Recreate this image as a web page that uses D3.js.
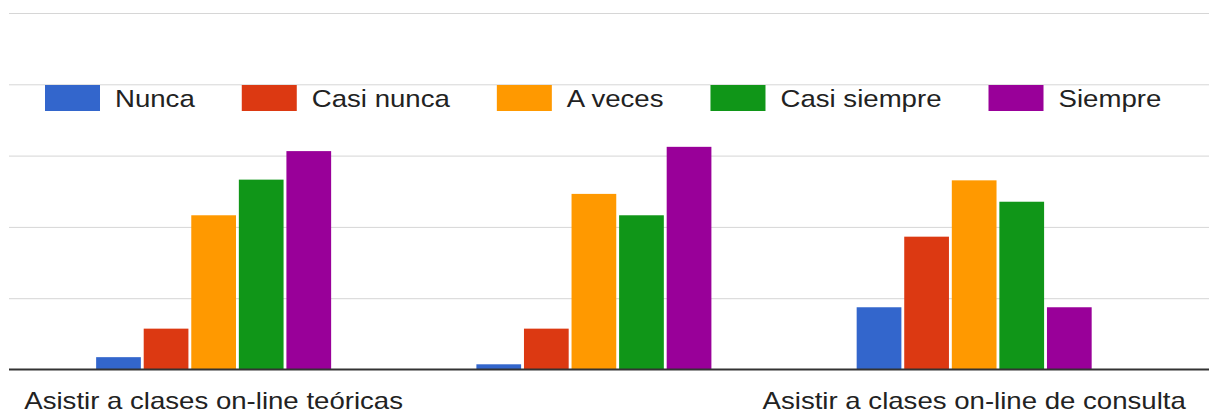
<!DOCTYPE html>
<html>
<head>
<meta charset="utf-8">
<script src="https://cdn.jsdelivr.net/npm/d3@7/dist/d3.min.js"></script>
<style>
  html, body { margin: 0; padding: 0; background: #fff; }
  svg { display: block; }
  text { font-family: "Liberation Sans", Arial, sans-serif; fill: #222; }
</style>
</head>
<body>
<svg id="chart" width="1209" height="414"></svg>
<script>
// ---- data ----
const categories = ["Asistir a clases on-line teóricas", "Asistir a clases on-line prácticas", "Asistir a clases on-line de consulta"];
const categoryLabelShown = [true, false, true];
const series = ["Nunca", "Casi nunca", "A veces", "Casi siempre", "Siempre"];
const colors = ["#3366cc", "#dc3912", "#ff9900", "#109618", "#990099"];
const valuesNunca       = [1.8, 0.8, 8.8];
const valuesCasiNunca   = [5.8, 5.8, 18.7];
const valuesAVeces      = [21.7, 24.7, 26.6];
const valuesCasiSiempre = [26.7, 21.7, 23.6];
const valuesSiempre     = [30.7, 31.3, 8.8];
const yTicks = [0, 10, 20, 30, 40, 50];

const seriesValues = [valuesNunca, valuesCasiNunca, valuesAVeces, valuesCasiSiempre, valuesSiempre];
const rows = categories.map((c, i) => ({
  cat: c, idx: i,
  vals: series.map((s, j) => ({ s, j, v: seriesValues[j][i] }))
}));

// ---- layout ----
const svg = d3.select("#chart");
const plotLeft = 9, plotRight = 1209;
const baseY = 370, topY = 13.5;

const y = d3.scaleLinear().domain([0, 50]).range([baseY, topY]);
const x0 = d3.scaleBand().domain(categories).range([23.5, 1164.3]).paddingInner(0.382).paddingOuter(0.191);
const x1 = d3.scaleBand().domain(series).range([0, x0.bandwidth()]).paddingInner(0.06).paddingOuter(0);
const color = d3.scaleOrdinal().domain(series).range(colors);

// gridlines
svg.append("g").selectAll("line")
  .data(yTicks.filter(t => t > 0))
  .join("line")
  .attr("x1", plotLeft).attr("x2", plotRight)
  .attr("y1", d => y(d)).attr("y2", d => y(d))
  .attr("stroke", "#d6d6d6").attr("stroke-width", 1);

// bars
const groups = svg.append("g").selectAll("g")
  .data(rows).join("g")
  .attr("transform", d => `translate(${x0(d.cat)},0)`);
groups.selectAll("rect")
  .data(d => d.vals).join("rect")
  .attr("x", d => x1(d.s))
  .attr("width", x1.bandwidth())
  .attr("y", d => y(d.v))
  .attr("height", d => y(0) - y(d.v))
  .attr("fill", d => color(d.s));

// baseline
svg.append("line")
  .attr("x1", plotLeft).attr("x2", plotRight)
  .attr("y1", y(0) - 0.5).attr("y2", y(0) - 0.5)
  .attr("stroke", "#333").attr("stroke-width", 2);

// category labels
const labelScale = 1.2;
svg.append("g").selectAll("text")
  .data(rows.filter(r => categoryLabelShown[r.idx]))
  .join("text")
  .attr("transform", d => `translate(${x0(d.cat) + x0.bandwidth() / 2},409) scale(${labelScale},1)`)
  .attr("text-anchor", "middle")
  .style("font-size", "23px")
  .text(d => d.cat);

// legend
const legScale = 1.15;
const leg = svg.append("g");
let lx = 45;
series.forEach((s, i) => {
  const g = leg.append("g").attr("transform", `translate(${lx},0)`);
  g.append("rect").attr("x", 0).attr("y", 85).attr("width", 55).attr("height", 26).attr("fill", color(s));
  const t = g.append("text")
    .attr("transform", `translate(70,107) scale(${legScale},1)`)
    .style("font-size", "24px")
    .text(s);
  const w = t.node().getComputedTextLength() * legScale;
  lx += 70 + w + 47;
});
</script>
</body>
</html>
